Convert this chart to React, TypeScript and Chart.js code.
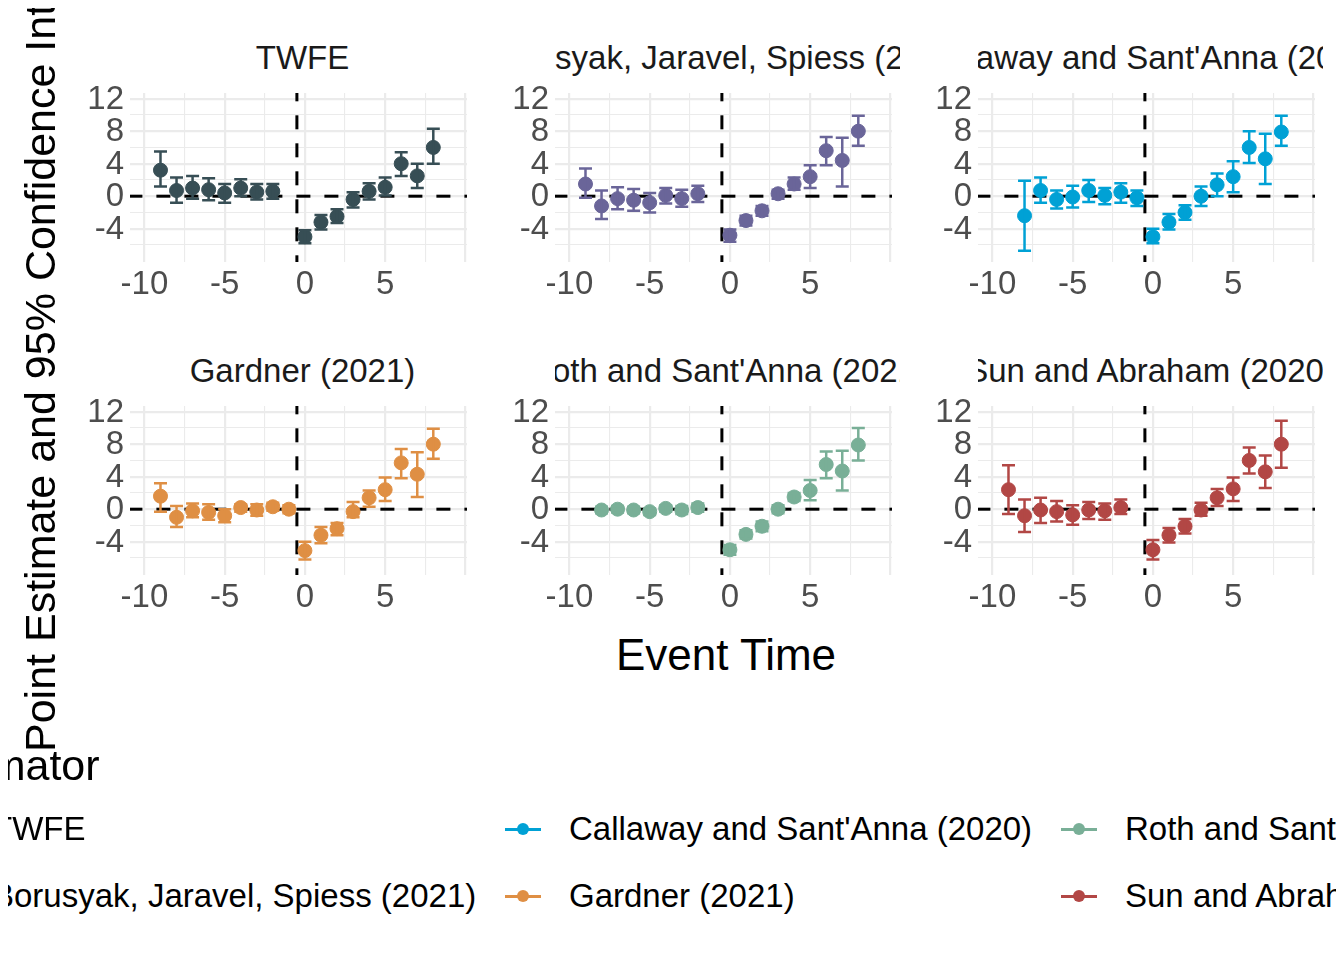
import React, { useEffect, useRef } from "react";
import { Chart, registerables } from "chart.js";
Chart.register(...registerables);

const estimators = ["TWFE", "Borusyak, Jaravel, Spiess (2021)", "Callaway and Sant'Anna (2020)", "Gardner (2021)", "Roth and Sant'Anna (2021)", "Sun and Abraham (2020)"];
const colors = ["#374E55", "#6A6599", "#00A1D5", "#DF8F44", "#79AF97", "#B24745"];

const twfeX = [-9, -8, -7, -6, -5, -4, -3, -2, 0, 1, 2, 3, 4, 5, 6, 7, 8];
const twfeEst = [3.2, 0.7, 1.0, 0.8, 0.4, 1.0, 0.5, 0.6, -5.0, -3.2, -2.5, -0.4, 0.6, 1.1, 4.0, 2.5, 6.0];
const twfeLo = [1.2, -0.8, -0.3, -0.5, -0.8, 0.0, -0.4, -0.3, -5.8, -4.1, -3.3, -1.4, -0.4, 0.1, 2.5, 1.0, 4.0];
const twfeHi = [5.5, 2.3, 2.5, 2.2, 1.5, 2.1, 1.5, 1.5, -4.2, -2.3, -1.6, 0.5, 1.6, 2.3, 5.4, 4.0, 8.3];

const bjsX = [-9, -8, -7, -6, -5, -4, -3, -2, 0, 1, 2, 3, 4, 5, 6, 7, 8];
const bjsEst = [1.5, -1.2, -0.3, -0.5, -0.8, 0.1, -0.3, 0.3, -4.8, -3.0, -1.8, 0.3, 1.5, 2.4, 5.6, 4.4, 8.0];
const bjsLo = [-0.2, -2.8, -1.6, -1.8, -2.0, -0.9, -1.3, -0.7, -5.6, -3.6, -2.4, -0.3, 0.8, 1.0, 3.8, 1.2, 6.2];
const bjsHi = [3.4, 0.7, 1.1, 0.9, 0.4, 1.0, 0.8, 1.3, -4.1, -2.4, -1.2, 0.8, 2.3, 3.8, 7.3, 7.2, 9.9];

const csX = [-8, -7, -6, -5, -4, -3, -2, -1, 0, 1, 2, 3, 4, 5, 6, 7, 8];
const csEst = [-2.4, 0.7, -0.4, -0.1, 0.7, 0.1, 0.5, -0.2, -5.0, -3.2, -2.0, 0.0, 1.4, 2.4, 6.0, 4.6, 7.9];
const csLo = [-6.7, -0.8, -1.5, -1.4, -0.7, -1.0, -0.8, -1.2, -5.8, -4.1, -2.9, -1.2, 0.0, 0.5, 4.1, 1.5, 6.2];
const csHi = [1.9, 2.3, 0.7, 1.3, 2.0, 1.0, 1.6, 0.7, -4.0, -2.2, -1.1, 1.2, 2.8, 4.3, 8.0, 7.7, 9.9];

const gX = [-9, -8, -7, -6, -5, -4, -3, -2, -1, 0, 1, 2, 3, 4, 5, 6, 7, 8];
const gEst = [1.6, -1.0, -0.2, -0.4, -0.8, 0.2, -0.1, 0.3, 0.0, -5.1, -3.2, -2.4, -0.3, 1.4, 2.4, 5.7, 4.3, 8.0];
const gLo = [-0.3, -2.2, -1.0, -1.3, -1.6, -0.3, -0.8, -0.2, -0.5, -6.2, -4.2, -3.2, -1.0, 0.3, 1.0, 3.8, 1.5, 6.2];
const gHi = [3.2, 0.4, 0.7, 0.6, 0.0, 0.6, 0.6, 0.8, 0.5, -4.0, -2.2, -1.7, 0.9, 2.3, 3.9, 7.4, 7.0, 9.9];

const rX = [-8, -7, -6, -5, -4, -3, -2, 0, 1, 2, 3, 4, 5, 6, 7, 8];
const rEst = [-0.1, 0.0, -0.1, -0.3, 0.1, -0.1, 0.2, -5.0, -3.1, -2.1, 0.0, 1.5, 2.3, 5.5, 4.7, 7.9];
const rLo = [-0.5, -0.4, -0.5, -0.7, -0.3, -0.6, -0.3, -5.6, -3.6, -2.7, -0.5, 1.0, 1.1, 3.8, 2.3, 6.0];
const rHi = [0.3, 0.4, 0.3, 0.1, 0.5, 0.4, 0.7, -4.4, -2.6, -1.5, 0.5, 2.0, 3.6, 7.1, 7.2, 10.0];

const sX = [-9, -8, -7, -6, -5, -4, -3, -2, 0, 1, 2, 3, 4, 5, 6, 7, 8];
const sEst = [2.4, -0.8, -0.1, -0.3, -0.7, -0.1, -0.2, 0.2, -5.0, -3.2, -2.1, -0.1, 1.4, 2.5, 6.0, 4.6, 8.0];
const sLo = [-0.6, -2.8, -1.7, -1.5, -1.9, -1.2, -1.3, -0.6, -6.2, -4.1, -3.0, -0.8, 0.4, 1.0, 4.4, 2.6, 5.1];
const sHi = [5.4, 1.2, 1.4, 1.0, 0.5, 0.9, 0.7, 1.2, -3.8, -2.3, -1.2, 0.8, 2.5, 3.9, 7.6, 6.6, 10.9];

const series = [
  [twfeX, twfeEst, twfeLo, twfeHi],
  [bjsX, bjsEst, bjsLo, bjsHi],
  [csX, csEst, csLo, csHi],
  [gX, gEst, gLo, gHi],
  [rX, rEst, rLo, rHi],
  [sX, sEst, sLo, sHi],
];

const xTicks = [-10, -7.5, -5, -2.5, 0, 2.5, 5, 7.5, 10];
const yTicks = [-6, -4, -2, 0, 2, 4, 6, 8, 10, 12];
const xMajor = [-10, -5, 0, 5];
const yMajor = [-4, 0, 4, 8, 12];

const FONT = "'Liberation Sans', Arial, sans-serif";
const plotLefts = [130, 555, 978];
const plotTops = [85, 398];
const PW = 345;
const PH = 177;
const YW = 70;
const XH = 46;

function Panel({ idx }: { idx: number }) {
  const ref = useRef<HTMLCanvasElement>(null);
  useEffect(() => {
    const [xs, est, lo, hi] = series[idx];
    const color = colors[idx];
    const errPlugin = {
      id: "err",
      afterDatasetsDraw(chart: any) {
        const ctx = chart.ctx;
        const xs2 = chart.scales.x, ys2 = chart.scales.y;
        ctx.save();
        ctx.strokeStyle = color;
        ctx.lineWidth = 2.5;
        xs.forEach((xv: number, i: number) => {
          const px = xs2.getPixelForValue(xv);
          const pl = ys2.getPixelForValue(lo[i]);
          const ph = ys2.getPixelForValue(hi[i]);
          ctx.beginPath();
          ctx.moveTo(px, pl); ctx.lineTo(px, ph);
          ctx.moveTo(px - 6.5, pl); ctx.lineTo(px + 6.5, pl);
          ctx.moveTo(px - 6.5, ph); ctx.lineTo(px + 6.5, ph);
          ctx.stroke();
        });
        ctx.restore();
      },
      afterDraw(chart: any) {
        const ctx = chart.ctx;
        const a = chart.chartArea;
        ctx.save();
        ctx.fillStyle = "#4d4d4d";
        ctx.font = `33px ${FONT}`;
        ctx.textAlign = "right";
        ctx.textBaseline = "middle";
        yMajor.forEach((v) => ctx.fillText(String(v), a.left - 6, chart.scales.y.getPixelForValue(v) + 1));
        ctx.textAlign = "center";
        ctx.textBaseline = "top";
        xMajor.forEach((v) => ctx.fillText(String(v), chart.scales.x.getPixelForValue(v), a.bottom + 6));
        ctx.restore();
      },
    };
    const chart = new Chart(ref.current!, {
      type: "scatter",
      data: {
        datasets: [
          { data: [{ x: -11, y: 0 }, { x: 11, y: 0 }], showLine: true, borderColor: "#000", borderWidth: 3, borderDash: [14, 14], pointRadius: 0, order: 1 } as any,
          { data: [{ x: -0.5, y: -9 }, { x: -0.5, y: 13 }], showLine: true, borderColor: "#000", borderWidth: 3, borderDash: [14, 14], pointRadius: 0, order: 1 } as any,
          { data: xs.map((x: number, i: number) => ({ x, y: est[i] })), pointRadius: 7, pointBackgroundColor: color, pointBorderColor: color, order: 0 },
        ],
      },
      options: {
        animation: false,
        responsive: false,
        layout: { padding: 0 },
        plugins: { legend: { display: false }, tooltip: { enabled: false } },
        scales: {
          x: {
            type: "linear", min: -10.9, max: 10.1,
            afterBuildTicks: (s: any) => { s.ticks = xTicks.map((v) => ({ value: v })); },
            afterFit: (s: any) => { s.height = XH; },
            border: { display: false },
            grid: { color: "#ebebeb", lineWidth: (c: any) => (xMajor.includes(c.tick?.value) || c.tick?.value === 10 ? 2.2 : 1.1), drawTicks: false },
            ticks: { display: false },
          },
          y: {
            type: "linear", min: -8.1, max: 12.7,
            afterBuildTicks: (s: any) => { s.ticks = yTicks.map((v) => ({ value: v })); },
            afterFit: (s: any) => { s.width = YW; },
            border: { display: false },
            grid: { color: "#ebebeb", lineWidth: (c: any) => (yMajor.includes(c.tick?.value) ? 2.2 : 1.1), drawTicks: false },
            ticks: { display: false },
          },
        },
      },
      plugins: [errPlugin],
    } as any);
    return () => chart.destroy();
  }, [idx]);
  const col = idx % 3, row = Math.floor(idx / 3);
  const left = plotLefts[col], top = plotTops[row];
  return (
    <>
      <div style={{ position: "absolute", left, top: top - 48, width: PW, height: 42, overflow: "hidden", display: "flex", justifyContent: "center", whiteSpace: "nowrap", fontFamily: FONT, fontSize: 33, color: "#1a1a1a", lineHeight: "42px" }}>
        <span style={{ flexShrink: 0 }}>{estimators[idx]}</span>
      </div>
      <canvas ref={ref} width={PW + YW} height={PH + XH} style={{ position: "absolute", left: left - YW, top, width: PW + YW, height: PH + XH }} />
    </>
  );
}

export default function App() {
  const legendCols = [[0, 1], [2, 3], [4, 5]];
  const colX = [-8, 569, 1125];
  const rowY = [829, 896];
  return (
    <div style={{ position: "relative", width: 1344, height: 960, overflow: "hidden", background: "#fff", margin: -8 }}>
      {[0, 1, 2, 3, 4, 5].map((i) => <Panel key={i} idx={i} />)}
      <div style={{ position: "absolute", left: 726, top: 655, transform: "translate(-50%,-50%)", fontFamily: FONT, fontSize: 44, color: "#000", whiteSpace: "nowrap" }}>Event Time</div>
      <div style={{ position: "absolute", left: 40, top: 752, transformOrigin: "0 0", transform: "rotate(-90deg) translate(0,-50%)", fontFamily: FONT, fontSize: 43, color: "#000", whiteSpace: "nowrap", lineHeight: "48px" }}>Point Estimate and 95% Confidence Interval</div>
      <div style={{ position: "absolute", left: -82, top: 765, transform: "translate(0,-50%)", fontFamily: FONT, fontSize: 43, color: "#000", whiteSpace: "nowrap" }}>Estimator</div>
      {legendCols.map((pair, c) => pair.map((ei, r) => (
        <React.Fragment key={ei}>
          <div style={{ position: "absolute", left: colX[c] - 64, top: rowY[r] - 1.5, width: 36, height: 3, background: colors[ei] }} />
          <div style={{ position: "absolute", left: colX[c] - 52, top: rowY[r] - 6, width: 12, height: 12, borderRadius: 6, background: colors[ei] }} />
          <div style={{ position: "absolute", left: colX[c], top: rowY[r], transform: "translate(0,-50%)", fontFamily: FONT, fontSize: 33, color: "#000", whiteSpace: "nowrap" }}>{estimators[ei]}</div>
        </React.Fragment>
      )))}
    </div>
  );
}
